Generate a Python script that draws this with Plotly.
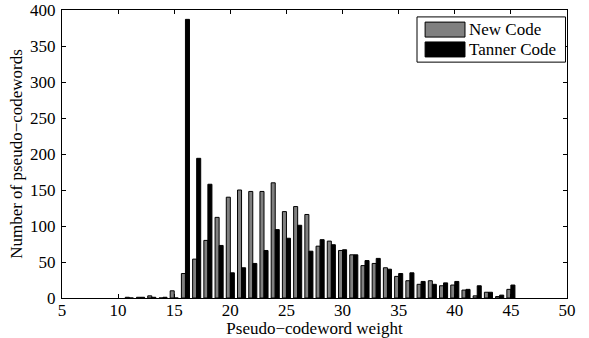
import plotly.graph_objects as go

weights = list(range(11, 46))
new_code = [1, 1, 3, 0, 10, 34, 54, 80, 112, 140, 150, 148, 148, 160, 120, 127, 116, 72, 79, 66, 60, 45, 48, 42, 30, 24, 19, 24, 17, 18, 11, 3, 8, 2, 12]
tanner_code = [0, 1, 1, 1, 0, 387, 194, 158, 73, 35, 42, 48, 66, 95, 83, 101, 65, 81, 74, 67, 60, 52, 55, 40, 34, 35, 23, 19, 21, 23, 12, 17, 8, 4, 18]
series_names = ["New Code", "Tanner Code"]
series_colors = ["#808080", "#000000"]

FONT = "Liberation Serif"
FS = 17

fig = go.Figure()
for name, vals, col in zip(series_names, [new_code, tanner_code], series_colors):
    fig.add_trace(go.Bar(x=weights, y=vals, name=name, marker=dict(color=col, line=dict(color="black", width=1)), showlegend=False))

fig.update_layout(
    barmode="group", bargap=0.28, bargroupgap=0,
    width=589, height=338,
    margin=dict(l=62, r=22, t=10, b=40),
    plot_bgcolor="white", paper_bgcolor="white",
    font=dict(family=FONT, size=FS, color="black"),
)
axis_common = dict(showgrid=False, zeroline=False, showline=True, linecolor="black", linewidth=1,
                   mirror="allticks", ticks="inside", ticklen=4, tickcolor="black", automargin=False,
                   ticklabeloverflow="allow",
                   tickfont=dict(family=FONT, size=FS, color="black"))
fig.update_xaxes(range=[5, 50], dtick=5, tick0=5, ticklabelstandoff=-3,
                 title=dict(text="Pseudo−codeword weight", font=dict(family=FONT, size=FS), standoff=5), **axis_common)
fig.update_yaxes(range=[0, 400], dtick=50, ticklabelstandoff=2,
                 title=dict(text="Number of pseudo−codewords", font=dict(family=FONT, size=FS), standoff=3), **axis_common)

# custom legend (box with wide swatches)
x0, x1, y0, y1 = 0.703, 0.997, 0.976, 0.819
fig.add_shape(type="rect", xref="paper", yref="paper", x0=x0, x1=x1, y0=y1, y1=y0,
              line=dict(color="black", width=1), fillcolor="white")
rows = [0.932, 0.863]
for name, col, yc in zip(series_names, series_colors, rows):
    fig.add_shape(type="rect", xref="paper", yref="paper", x0=0.719, x1=0.798,
                  y0=yc - 0.026, y1=yc + 0.026, line=dict(color="black", width=1), fillcolor=col)
    fig.add_annotation(xref="paper", yref="paper", x=0.802, y=yc, text=name, showarrow=False,
                       xanchor="left", yanchor="middle", font=dict(family=FONT, size=FS, color="black"))

# remove the browser's default 8px body margin so the figure fills the window
fig.write_html("out.html", config={"displayModeBar": False},
               post_script="document.body.style.margin='0';document.body.style.overflow='hidden';")
